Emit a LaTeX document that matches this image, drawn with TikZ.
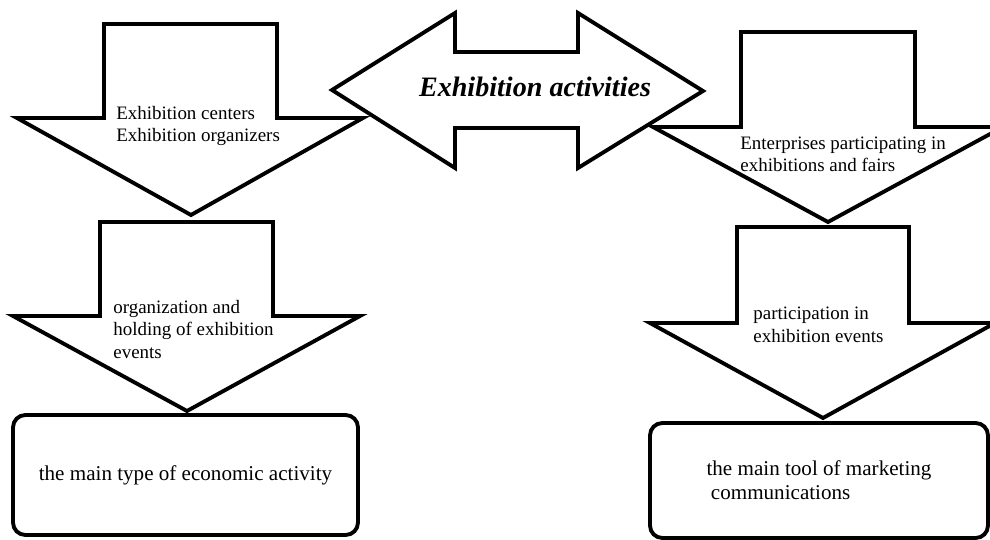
\documentclass[tikz,border=0pt]{standalone}
\usepackage{fontspec}
\setmainfont{Liberation Serif}
\tikzstyle{blk}=[draw=black,line width=2.2pt]
\tikzstyle{lbl}=[inner sep=0pt,anchor=base west,align=left,
  font=\fontsize{10.8}{12.8}\selectfont]
\tikzstyle{bx}=[draw=black,line width=2.2pt,rounded corners=7pt,
  align=left,font=\fontsize{12}{13.6}\selectfont]
\tikzstyle{ttl}=[inner sep=0pt,font=\fontsize{16}{19}\selectfont\bfseries\itshape]

\begin{document}
\begin{tikzpicture}[x=0.02cm,y=-0.02cm]
    \useasboundingbox (0,0) rectangle (990,540);
    \clip (0,0) rectangle (990,540);
    % block arrows
    \draw [blk] (104,24) -- (277,24) -- (277,118) -- (363,118) -- (191,215)
      -- (17,118) -- (104,118) -- cycle;
    \draw [blk] (100,222) -- (273,222) -- (273,316) -- (360,316) -- (187,411)
      -- (13,316) -- (100,316) -- cycle;
    \draw [blk] (741,32) -- (915,32) -- (915,127) -- (1003,127) -- (828,222)
      -- (653,127) -- (741,127) -- cycle;
    \draw [blk] (737,227) -- (909,227) -- (909,323) -- (995,323) -- (823,418)
      -- (650,323) -- (737,323) -- cycle;
    \draw [blk] (332,90) -- (455,13) -- (455,52) -- (578,52) -- (578,13)
      -- (703,91) -- (578,168) -- (578,128) -- (455,128) -- (455,168) -- cycle;
    % labels (base = last line)
    \node [style=ttl] (act) at (535,87) {Exhibition activities};
    \node [style=lbl] (centers) at (116,142) {Exhibition centers\\Exhibition organizers};
    \node [style=lbl] (firms) at (740,172) {Enterprises participating in\\exhibitions and fairs};
    \node [style=lbl] (holding) at (113,358) {organization and\\holding of exhibition\\events};
    \node [style=lbl] (partic) at (753,342) {participation in\\exhibition events};
    % boxes
    \node [style=bx,minimum width=6.9cm,minimum height=2.4cm] (typebox) at (185.5,475)
      {the main type of economic activity};
    \node [style=bx,minimum width=6.76cm,minimum height=2.3cm] (toolbox) at (819,480.5)
      {the main tool of marketing\\\hspace*{2.5pt}communications};
\end{tikzpicture}
\end{document}
